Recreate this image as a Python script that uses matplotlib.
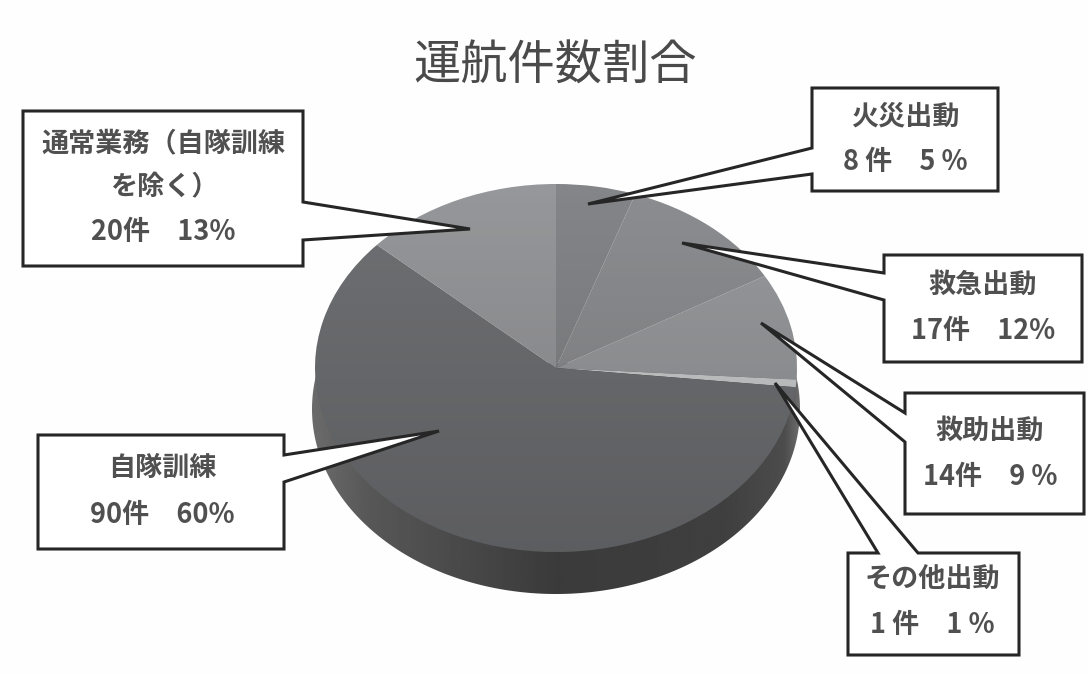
import numpy as np
import matplotlib
matplotlib.use("Agg")
import matplotlib.pyplot as plt
from matplotlib.patches import Polygon, Circle

plt.rcParams['font.family'] = ['Noto Sans CJK JP', 'DejaVu Sans']

W, H = 1088, 674

categories = ['火災出動', '救急出動', '救助出動', 'その他出動', '自隊訓練', '通常業務（自隊訓練を除く）']
counts = [8, 17, 14, 1, 90, 20]
percents = [5, 12, 9, 1, 60, 13]
slice_colors = ['#848588', '#8c8d90', '#98999c', '#cbcccd', '#6f7073', '#96979a']

# pie placement, in pixels
CX, CY, RX, RY, DEPTH = 556, 368, 241, 184, 41

fig = plt.figure(figsize=(W / 100, H / 100), dpi=100, facecolor='#fefefe')


def pixel_axes():
    ax = fig.add_axes([0, 0, 1, 1], facecolor='none')
    ax.set_xlim(0, W)
    ax.set_ylim(H, 0)
    ax.axis('off')
    return ax


# side wall of the pie, shaded left to right
back = pixel_axes()
t = np.linspace(-0.25, np.pi + 0.25, 220)
side_x = CX + (RX + 3) * np.cos(t)
side_y = CY + DEPTH + (RY + 1) * np.sin(t)
stops = np.interp(np.linspace(0, 1, 256), [0, 0.12, 0.5, 0.85, 0.97, 1],
                  [0.42, 0.34, 0.23, 0.25, 0.30, 0.42])
img = back.imshow(stops[None, :], cmap='gray', vmin=0, vmax=1, aspect='auto',
                  extent=(CX - RX - 3, CX + RX + 3, H, 0))
clip = Polygon(np.c_[side_x, side_y], closed=True, transform=back.transData,
               facecolor='none', edgecolor='none')
back.add_patch(clip)
img.set_clip_path(clip)
back.set_xlim(0, W)
back.set_ylim(H, 0)

# top face
pie_ax = fig.add_axes([(CX - RX) / W, 1 - (CY + RY) / H, 2 * RX / W, 2 * RY / H], facecolor='none')
pie_ax.pie(counts, colors=slice_colors, startangle=90, counterclock=False, radius=1,
           wedgeprops={'linewidth': 0})
pie_ax.set_aspect('auto')

# darkens the face slightly towards the bottom
shade = np.zeros((128, 1, 4))
shade[:, 0, 3] = np.linspace(0.0, 0.17, 128)
overlay = pie_ax.imshow(shade, extent=(-1, 1, -1, 1), aspect='auto', zorder=5)
overlay.set_clip_path(Circle((0, 0), 1, transform=pie_ax.transData))
pie_ax.set_xlim(-1, 1)
pie_ax.set_ylim(-1, 1)
pie_ax.axis('off')

front = pixel_axes()

# callout outlines: box corners with the pointer spliced in
callouts = [
    [(812, 88), (998, 88), (998, 191), (812, 191), (812, 174), (588, 204), (812, 148)],
    [(884, 255), (1082, 255), (1082, 362), (884, 362), (884, 300), (682, 243), (884, 273)],
    [(905, 393), (1084, 393), (1084, 514), (905, 514), (905, 442), (761, 323), (905, 413)],
    [(848, 553), (878, 553), (775, 383), (918, 553), (1019, 553), (1019, 655), (848, 655)],
    [(38, 435), (284, 435), (284, 455), (439, 431), (284, 482), (284, 549), (38, 549)],
    [(23, 111), (303, 111), (303, 202), (470, 229), (303, 240), (303, 266), (23, 266)],
]
for pts in callouts:
    front.add_patch(Polygon(pts, closed=True, facecolor='#ffffff', edgecolor='#262626',
                            linewidth=2.2, joinstyle='miter'))


def count_text(c, p):
    left = f'{c} 件' if c < 10 else f'{c}件'
    right = f'{p} %' if p < 10 else f'{p}%'
    return f'{left}　{right}'


label_font = {'color': '#505050', 'fontsize': 19.5, 'ha': 'center', 'va': 'center', 'fontweight': 'bold'}
value_lines = [count_text(c, p) for c, p in zip(counts, percents)]

front.text(905, 116, categories[0], **label_font)
front.text(905, 162, value_lines[0], **label_font)
front.text(983, 285, categories[1], **label_font)
front.text(983, 331, value_lines[1], **label_font)
front.text(990, 431, categories[2], **label_font)
front.text(990, 477, value_lines[2], **label_font)
front.text(932, 580, categories[3], **label_font)
front.text(932, 625, value_lines[3], **label_font)
front.text(162, 468, categories[4], **label_font)
front.text(162, 515, value_lines[4], **label_font)
front.text(164, 143, categories[5][:9], **label_font)
front.text(164, 187, categories[5][9:], **label_font)
front.text(163, 232, value_lines[5], **label_font)

front.text(555, 66, '運航件数割合', color='#4a4a4a', fontsize=34, ha='center', va='center')

fig.savefig('out.png', dpi=100, facecolor=fig.get_facecolor())
